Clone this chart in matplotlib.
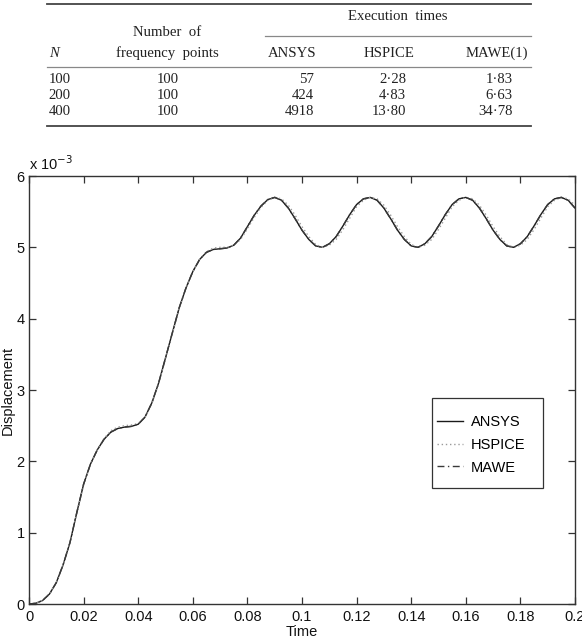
import numpy as np
import matplotlib
matplotlib.use("Agg")
import matplotlib.pyplot as plt
from matplotlib.lines import Line2D
from matplotlib.patches import Rectangle

# ---------------- data ----------------
time = np.linspace(0.0, 0.2, 81)

ansys = [0.00, 0.01, 0.05, 0.14, 0.30, 0.55, 0.86, 1.28, 1.68, 1.96,
         2.16, 2.31, 2.41, 2.46, 2.48, 2.49, 2.52, 2.62, 2.82, 3.10,
         3.45, 3.80, 4.15, 4.43, 4.66, 4.83, 4.93, 4.97, 4.98, 4.99,
         5.03, 5.13, 5.29, 5.45, 5.58, 5.67,
         5.70, 5.66, 5.55, 5.40, 5.24, 5.11, 5.02, 5.00, 5.05, 5.15, 5.30, 5.46, 5.60, 5.68,
         5.70, 5.66, 5.55, 5.40, 5.24, 5.11, 5.02, 5.00, 5.05, 5.15, 5.30, 5.46, 5.60, 5.68,
         5.70, 5.66, 5.55, 5.40, 5.24, 5.11, 5.02, 5.00, 5.05, 5.15, 5.30, 5.46, 5.60, 5.68,
         5.70, 5.66, 5.55]

hspice = [0.00, 0.01, 0.05, 0.14, 0.30, 0.55, 0.86, 1.27, 1.67, 1.96,
          2.16, 2.32, 2.43, 2.48, 2.50, 2.51, 2.53, 2.62, 2.81, 3.09,
          3.44, 3.79, 4.14, 4.43, 4.66, 4.83, 4.94, 4.99, 5.00, 5.00,
          5.03, 5.11, 5.26, 5.42, 5.56, 5.66,
          5.70, 5.68, 5.59, 5.45, 5.29, 5.15, 5.04, 5.00, 5.03, 5.11, 5.25, 5.41, 5.57, 5.66,
          5.70, 5.68, 5.59, 5.45, 5.29, 5.15, 5.04, 5.00, 5.03, 5.11, 5.25, 5.41, 5.57, 5.66,
          5.70, 5.68, 5.59, 5.45, 5.29, 5.15, 5.04, 5.00, 5.03, 5.11, 5.25, 5.41, 5.57, 5.66,
          5.70, 5.68, 5.59]

mawe = [0.00, 0.01, 0.05, 0.14, 0.30, 0.55, 0.86, 1.28, 1.68, 1.96,
        2.16, 2.31, 2.41, 2.46, 2.48, 2.49, 2.52, 2.62, 2.82, 3.10,
        3.45, 3.80, 4.15, 4.43, 4.66, 4.83, 4.93, 4.97, 4.98, 4.99,
        5.03, 5.13, 5.29, 5.45, 5.58, 5.67,
        5.70, 5.66, 5.55, 5.40, 5.24, 5.11, 5.02, 5.00, 5.05, 5.15, 5.30, 5.46, 5.60, 5.68,
        5.70, 5.66, 5.55, 5.40, 5.24, 5.11, 5.02, 5.00, 5.05, 5.15, 5.30, 5.46, 5.60, 5.68,
        5.70, 5.66, 5.55, 5.40, 5.24, 5.11, 5.02, 5.00, 5.05, 5.15, 5.30, 5.46, 5.60, 5.68,
        5.70, 5.66, 5.55]

xticks = [0, 0.02, 0.04, 0.06, 0.08, 0.1, 0.12, 0.14, 0.16, 0.18, 0.2]
xtick_labels = ['0', '0.02', '0.04', '0.06', '0.08', '0.1', '0.12', '0.14', '0.16', '0.18', '0.2']
yticks = [0, 1, 2, 3, 4, 5, 6]
ytick_labels = ['0', '1', '2', '3', '4', '5', '6']

# table
tab_N = ['100', '200', '400']
tab_freq = ['100', '100', '100']
tab_ansys = ['57', '424', '4918']
tab_hspice = ['2·28', '4·83', '13·80']
tab_mawe = ['1·83', '6·63', '34·78']

# ---------------- figure ----------------
W, H = 582, 644
fig = plt.figure(figsize=(W / 100, H / 100), dpi=100)
fig.patch.set_facecolor('white')

def fx(px):
    return px / W

def fy(py):
    return 1 - py / H

serif = 'Liberation Serif'
tfs = 10.6
tcol = '#222222'

def hrule(x0, x1, y, lw=1.0, col='#444444'):
    fig.add_artist(Line2D([fx(x0), fx(x1)], [fy(y), fy(y)], transform=fig.transFigure,
                          color=col, lw=lw))

hrule(47, 531, 4, lw=1.3)
hrule(265, 531, 36, lw=0.9, col='#888888')
hrule(47, 531, 66.5, lw=0.9, col='#888888')
hrule(47, 531, 126, lw=1.3)

fig.text(fx(398), fy(16), 'Execution  times', family=serif, fontsize=tfs, ha='center', va='center', color=tcol)
fig.text(fx(167.5), fy(32), 'Number  of', family=serif, fontsize=tfs, ha='center', va='center', color=tcol)
fig.text(fx(49), fy(53.5), 'N', family=serif, style='italic', fontsize=tfs, ha='left', va='center', color=tcol)
fig.text(fx(167.5), fy(53.5), 'frequency  points', family=serif, fontsize=tfs, ha='center', va='center', color=tcol)
fig.text(fx(292), fy(53.5), 'ANSYS', family=serif, fontsize=tfs, ha='center', va='center', color=tcol)
fig.text(fx(389.5), fy(53.5), 'HSPICE', family=serif, fontsize=tfs, ha='center', va='center', color=tcol)
fig.text(fx(497), fy(53.5), 'MAWE(1)', family=serif, fontsize=tfs, ha='center', va='center', color=tcol)

row_y = [79.5, 95.5, 111.5]
for i, ry in enumerate(row_y):
    fig.text(fx(48.5), fy(ry), tab_N[i], family=serif, fontsize=tfs, ha='left', va='center', color=tcol)
    fig.text(fx(167.5), fy(ry), tab_freq[i], family=serif, fontsize=tfs, ha='center', va='center', color=tcol)
    fig.text(fx(314), fy(ry), tab_ansys[i], family=serif, fontsize=tfs, ha='right', va='center', color=tcol)
    fig.text(fx(406), fy(ry), tab_hspice[i], family=serif, fontsize=tfs, ha='right', va='center', color=tcol)
    fig.text(fx(513), fy(ry), tab_mawe[i], family=serif, fontsize=tfs, ha='right', va='center', color=tcol)

# ---------------- axes ----------------
sans = 'Liberation Sans'
afs = 10.5
ax_l, ax_r, ax_t, ax_b = 29, 575, 176, 604
ax = fig.add_axes([fx(ax_l), fy(ax_b), (ax_r - ax_l) / W, (ax_b - ax_t) / H])

ax.plot(time, ansys, color='#1a1a1a', lw=1.0, ls='-', label='ANSYS')
ax.plot(time, hspice, color='#9a9a9a', lw=1.0, ls=(0, (1, 2)), label='HSPICE')
ax.plot(time, mawe, color='#3a3a3a', lw=1.0, ls=(0, (5, 2.5, 1, 2.5)), label='MAWE')

ax.set_xlim(0, 0.2)
ax.set_ylim(0, 6)
ax.set_xticks(xticks)
ax.set_xticklabels(xtick_labels, family=sans, fontsize=afs)
ax.set_yticks(yticks)
ax.set_yticklabels(ytick_labels, family=sans, fontsize=afs)
ax.tick_params(direction='in', length=5, width=0.9, color='#333333',
               top=True, right=True, pad=3, labelcolor='#111111')
ax.tick_params(axis='x', pad=4)
for s in ax.spines.values():
    s.set_color('#333333')
    s.set_linewidth(1.0)

ax.set_xlabel('Time', family=sans, fontsize=afs, labelpad=1, color='#111111')
ax.set_ylabel('Displacement', family=sans, fontsize=afs, color='#111111')
ax.yaxis.set_label_coords((15 - ax_l) / (ax_r - ax_l), 0.5)
ax.text(0.0, 1.008, r'x 10$^{-3}$', transform=ax.transAxes, family=sans,
        fontsize=afs, ha='left', va='bottom', color='#111111')

# legend (frame drawn separately to match the reference box)
leg_box = ((432 - ax_l) / (ax_r - ax_l), (ax_b - 488) / (ax_b - ax_t),
           (543 - 432) / (ax_r - ax_l), (488 - 398) / (ax_b - ax_t))
ax.add_patch(Rectangle((leg_box[0], leg_box[1]), leg_box[2], leg_box[3],
                       transform=ax.transAxes, fill=True, facecolor='white',
                       edgecolor='#333333', lw=0.9, zorder=5))
leg = ax.legend(loc='upper left',
                bbox_to_anchor=((437 - ax_l) / (ax_r - ax_l), (ax_b - 415) / (ax_b - ax_t)),
                frameon=False, borderpad=0, borderaxespad=0, handlelength=1.8,
                handletextpad=0.5, labelspacing=0.6,
                prop={'family': sans, 'size': afs})
leg.set_zorder(6)

fig.savefig('out.png', dpi=100)
